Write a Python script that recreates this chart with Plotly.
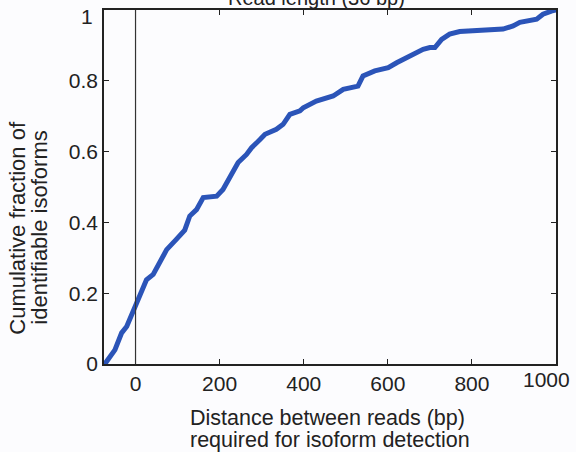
import plotly.graph_objects as go

# Distance between reads (bp) and cumulative fraction of identifiable isoforms
distance_bp = [-75, -73, -49, -33, -21, -10, 1, 14, 26, 42, 58, 74, 97, 109, 117, 129, 145,
               161, 193, 208, 224, 244, 264, 276, 296, 308, 335, 351, 367, 391, 399, 430,
               470, 494, 529, 541, 569, 601, 621, 652, 684, 700, 712, 728, 747, 771, 819,
               874, 898, 914, 954, 969, 989, 1000]
cum_fraction = [0.0, 0.0, 0.04, 0.088, 0.106, 0.135, 0.168, 0.205, 0.238, 0.253, 0.286, 0.323,
                0.352, 0.37, 0.378, 0.418, 0.436, 0.47, 0.474, 0.493, 0.526, 0.569, 0.592,
                0.611, 0.634, 0.649, 0.663, 0.677, 0.705, 0.715, 0.724, 0.743, 0.757, 0.776,
                0.785, 0.814, 0.828, 0.837, 0.851, 0.87, 0.889, 0.894, 0.894, 0.917, 0.932,
                0.939, 0.941, 0.946, 0.955, 0.965, 0.974, 0.988, 0.997, 1.0]

x_ticks = [0, 200, 400, 600, 800, 1000]
x_tick_labels = ["0", "200", "400", "600", "800", ""]
last_x_label = "1000"
y_ticks = [0, 0.2, 0.4, 0.6, 0.8, 1]
y_tick_labels = ["0", "0.2", "0.4", "0.6", "0.8", ""]
top_y_label = "1"

FONT = "Liberation Sans, Arial, Helvetica, sans-serif"
TXT = "#222222"

fig = go.Figure()
fig.add_trace(go.Scatter(x=distance_bp, y=cum_fraction, mode="lines",
                         line=dict(color="#2B54B8", width=5), showlegend=False))

fig.add_shape(type="line", xref="x", yref="paper", x0=0, x1=0, y0=0, y1=1,
              line=dict(color="#333333", width=1.2))

axis_common = dict(showline=True, linecolor="#222222", linewidth=1.5, mirror="ticks",
                   ticks="inside", ticklen=5, tickcolor="#222222", tickwidth=1.2,
                   showgrid=False, zeroline=False, automargin=False,
                   ticklabeloverflow="allow",
                   tickfont=dict(family=FONT, size=21, color=TXT))

fig.update_layout(
    width=576, height=452,
    margin=dict(l=104, r=20, t=10, b=88),
    paper_bgcolor="#FCFCFE", plot_bgcolor="#FCFCFE",
    font=dict(family=FONT, color=TXT),
    xaxis=dict(range=[-75, 1000], tickvals=x_ticks, ticktext=x_tick_labels, **axis_common),
    yaxis=dict(range=[0, 1], tickvals=y_ticks, ticktext=y_tick_labels, **axis_common),
)

fig.add_annotation(text=last_x_label, xref="x", yref="paper", x=1000, y=0,
                   xanchor="right", xshift=16, yanchor="middle", yshift=-15,
                   showarrow=False, font=dict(family=FONT, size=21, color=TXT))
fig.add_annotation(text=top_y_label, xref="paper", yref="y", x=0, y=1,
                   xanchor="right", xshift=-9, yanchor="middle", yshift=-6,
                   showarrow=False, font=dict(family=FONT, size=21, color=TXT))

fig.add_annotation(text="Distance between reads (bp)", xref="paper", yref="paper",
                   x=0.5, xshift=-3, y=0, yanchor="middle", yshift=-54,
                   showarrow=False, font=dict(family=FONT, size=21.5, color=TXT))
fig.add_annotation(text="required for isoform detection", xref="paper", yref="paper",
                   x=0.5, y=0, yanchor="middle", yshift=-76,
                   showarrow=False, font=dict(family=FONT, size=21.5, color=TXT))

fig.add_annotation(text="Cumulative fraction of", xref="paper", yref="paper",
                   x=0, xshift=-86, xanchor="center", y=0.385, yanchor="middle",
                   textangle=-90, showarrow=False, font=dict(family=FONT, size=22, color=TXT))
fig.add_annotation(text="identifiable isoforms", xref="paper", yref="paper",
                   x=0, xshift=-64, xanchor="center", y=0.385, yanchor="middle",
                   textangle=-90, showarrow=False, font=dict(family=FONT, size=22, color=TXT))

fig.add_annotation(text="Read length (36 bp)", xref="paper", yref="paper", x=0.47, y=1,
                   yshift=-1, yanchor="bottom", showarrow=False,
                   font=dict(family=FONT, size=20, color=TXT))

fig.write_html("out.html", config={"displayModeBar": False},
               post_script="document.body.style.margin='0';")
